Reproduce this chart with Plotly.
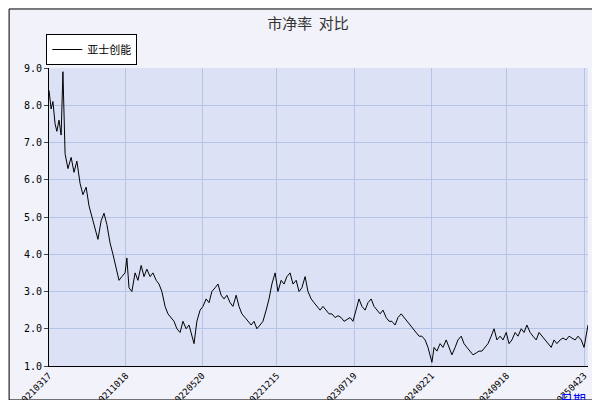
import plotly.graph_objects as go
import datetime as dt

start = dt.date(2021, 3, 17)
# day offsets from 2021-03-17 and P/B values
px = [41,43,45,47,49,51,53,55,57,60,63,66,69,72,75,78,81,84,87,90,93,96,99,102,105,108,111,114,117,119,121,124,127,130,133,136,139,142,145,148,151,154,157,160,163,166,169,172,175,178,181,184,186,189,192,195,198,201,204,207,210,213,216,219,222,225,228,231,234,237,240,243,246,249,252,255,258,261,264,267,270,273,276,279,282,285,288,291,294,297,300,303,306,309,312,315,318,321,324,327,330,333,336,339,342,345,348,351,354,357,360,363,366,369,372,375,378,381,384,387,390,393,396,399,402,405,408,411,414,417,420,422,424,426,429,432,435,438,441,444,447,450,453,456,459,462,465,468,471,474,477,480,483,486,489,492,495,498,501,504,507,510,513,516,519,522,525,528,531,534,537,540,543,546,549,552,555,558,561,564,567,570,573,576,578,580]
values = [8.4,7.9,8.1,7.5,7.3,7.6,7.2,8.9,6.7,6.3,6.6,6.2,6.5,5.9,5.6,5.8,5.3,5.0,4.7,4.4,4.9,5.1,4.8,4.3,4.0,3.6,3.3,3.4,3.5,3.9,3.1,3.0,3.5,3.3,3.7,3.4,3.6,3.4,3.5,3.3,3.2,3.0,2.6,2.4,2.3,2.2,2.0,1.9,2.2,2.0,2.1,1.8,1.6,2.2,2.5,2.6,2.8,2.7,3.0,3.1,3.2,2.9,2.8,2.9,2.7,2.6,2.9,2.6,2.4,2.3,2.2,2.1,2.2,2.0,2.1,2.2,2.5,2.8,3.2,3.5,3.0,3.3,3.2,3.4,3.5,3.2,3.3,3.0,3.1,3.4,3.0,2.8,2.7,2.6,2.5,2.6,2.5,2.4,2.4,2.3,2.35,2.3,2.2,2.25,2.3,2.2,2.5,2.8,2.6,2.5,2.7,2.8,2.6,2.5,2.4,2.5,2.3,2.2,2.2,2.1,2.3,2.4,2.3,2.2,2.1,2.0,1.9,1.8,1.8,1.7,1.5,1.3,1.1,1.5,1.4,1.6,1.5,1.7,1.5,1.3,1.5,1.7,1.8,1.6,1.5,1.4,1.3,1.35,1.4,1.4,1.5,1.6,1.8,2.0,1.7,1.8,1.7,1.9,1.6,1.7,1.9,1.8,2.0,1.9,2.1,1.9,1.8,1.7,1.9,1.8,1.7,1.6,1.5,1.7,1.6,1.7,1.75,1.7,1.8,1.75,1.7,1.8,1.7,1.5,1.8,2.1]
dates = [start + dt.timedelta(days=round((p - 41) * 2.8)) for p in px]
tick_labels = ["20210317", "20211018", "20220520", "20221215", "20230719", "20240221", "20240918", "20250423"]
tick_vals = [dt.datetime.strptime(t, "%Y%m%d").date() for t in tick_labels]
y_ticks = [1.0, 2.0, 3.0, 4.0, 5.0, 6.0, 7.0, 8.0, 9.0]

font = "Noto Sans CJK SC"
fig = go.Figure()
fig.add_trace(go.Scatter(x=dates, y=values, mode="lines", line=dict(color="black", width=1), name="亚士创能"))
fig.update_layout(
    width=600, height=400, margin=dict(l=41, r=20, t=60, b=42),
    paper_bgcolor="#F2F2FA", plot_bgcolor="#DCE1F5",
    font=dict(family=font, size=11, color="black"),
    title=dict(text="市净率  对比", x=0.5, y=0.975, xanchor="center", font=dict(size=15, color="#333")),
    showlegend=True,
    legend=dict(x=-0.005, y=1.01, xanchor="left", yanchor="bottom", bgcolor="white", bordercolor="black", borderwidth=1,
                itemwidth=30, font=dict(size=11)),
    xaxis=dict(range=[dates[0], dates[-1]], tickvals=tick_vals, ticktext=tick_labels, tickangle=-45, automargin=False,
               gridcolor="#B4C3E6", showline=True, linecolor="black", tickfont=dict(size=9, family="DejaVu Sans Mono")),
    yaxis=dict(range=[1, 9], tickvals=y_ticks, tickformat=".1f", gridcolor="#B4C3E6", automargin=False,
               showline=True, linecolor="black", ticks="outside", ticklen=4, tickfont=dict(size=10, family="DejaVu Sans Mono")),
    shapes=[dict(type="rect", xref="paper", yref="paper", x0=-0.074, x1=1.031, y0=-0.114, y1=1.198, line=dict(color="black", width=1))],
    annotations=[dict(text="日期", xref="paper", yref="paper", x=1.0, y=-0.07, xanchor="right", yanchor="top", showarrow=False, font=dict(color="blue", size=13))],
)
fig.write_html("out.html")
